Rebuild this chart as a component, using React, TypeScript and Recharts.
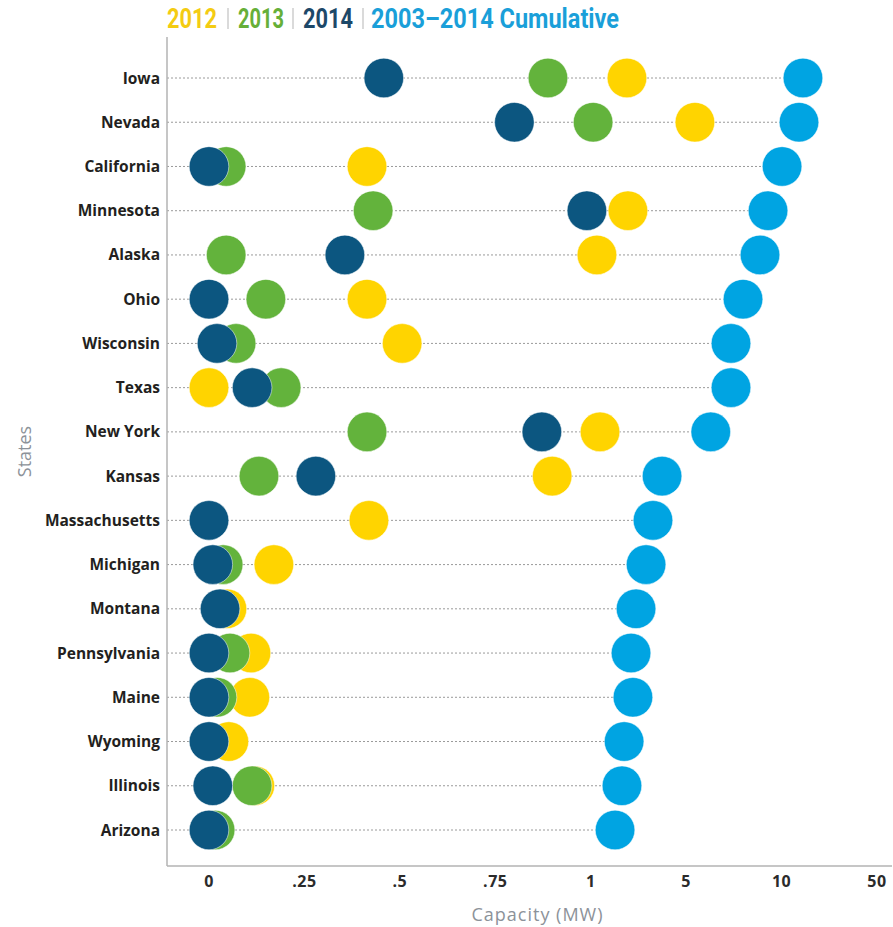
import React from "react";
import { ComposedChart, XAxis, YAxis, Scatter, ReferenceLine } from "recharts";

// ---- data (capacity in MW) ----
const states = [
  "Iowa", "Nevada", "California", "Minnesota", "Alaska", "Ohio", "Wisconsin", "Texas", "New York",
  "Kansas", "Massachusetts", "Michigan", "Montana", "Pennsylvania", "Maine", "Wyoming", "Illinois", "Arizona",
];
const values2012: (number | null)[] = [2.52, 5.46, 0.414, 2.56, 1.26, 0.414, 0.506, 0, 1.39, 0.899, 0.419, 0.17, 0.047, 0.11, 0.107, 0.052, 0.12, null];
const values2013: (number | null)[] = [0.888, 1.1, 0.045, 0.43, 0.045, 0.149, 0.071, 0.189, 0.414, 0.131, null, 0.037, null, 0.055, 0.021, null, 0.113, 0.016];
const values2014: (number | null)[] = [0.458, 0.8, 0, 0.99, 0.356, 0, 0.021, 0.113, 0.872, 0.28, 0, 0.01, 0.029, 0, 0, 0, 0.01, 0];
const valuesCumulative: number[] = [18.96, 17.3, 10.2, 9.29, 8.87, 7.98, 7.35, 7.35, 6.29, 3.99, 3.61, 3.32, 2.9, 2.69, 2.77, 2.4, 2.31, 2.02];

// axis break points (the chart's piecewise scale) and their labels
const tickValues = [0, 0.25, 0.5, 0.75, 1, 5, 10, 50];
const tickLabels = ["0", ".25", ".5", ".75", "1", "5", "10", "50"];

const legendItems = ["2012", "2013", "2014", "2003\u20132014 Cumulative"];

// map a MW value onto the evenly spaced break points
const toPos = (v: number | null): number | null => {
  if (v === null || v === undefined) return null;
  for (let i = 1; i < tickValues.length; i++) {
    if (v <= tickValues[i]) {
      const a = tickValues[i - 1];
      const b = tickValues[i];
      return i - 1 + (v - a) / (b - a);
    }
  }
  return tickValues.length - 1;
};

const rows = states.map((s, i) => ({
  state: s,
  p2012: toPos(values2012[i]),
  p2013: toPos(values2013[i]),
  p2014: toPos(values2014[i]),
  pCum: toPos(valuesCumulative[i]),
}));

const X_MIN = -0.44;
const X_MAX = 7.157;

const COLORS = {
  y2012: "#FFD400",
  y2013: "#63B33C",
  y2014: "#0C5680",
  cum: "#00A4E2",
};
const LEGEND_COLORS = ["#F4CC12", "#66AF38", "#1D4868", "#1A9FD9"];

const dot = (fill: string) => (props: any) => {
  const { cx, cy } = props;
  if (!Number.isFinite(cx) || !Number.isFinite(cy)) return <g />;
  return <circle cx={cx} cy={cy} r={19.8} fill={fill} stroke="#ffffff" strokeOpacity={0.5} strokeWidth={1} />;
};

const StatesLabel = (props: any) => {
  const vb = props.viewBox || {};
  const x = (vb.x ?? 0) + 24;
  const y = (vb.y ?? 0) + (vb.height ?? 0) / 2;
  return (
    <text
      x={x}
      y={y}
      transform={`rotate(-90 ${x} ${y})`}
      textAnchor="middle"
      dominantBaseline="central"
      fill="#8C9299"
      fontFamily="Open Sans"
      fontSize={18}
    >
      States
    </text>
  );
};

const CapacityLabel = (props: any) => {
  const vb = props.viewBox || {};
  const x = (vb.x ?? 0) + (vb.width ?? 0) / 2 + 8;
  const y = (vb.y ?? 0) + 55;
  return (
    <text x={x} y={y} textAnchor="middle" fill="#8C9299" fontFamily="Open Sans" fontSize={18} letterSpacing={1}>
      Capacity (MW)
    </text>
  );
};

const Legend = () => {
  const xs = [167, 238, 303, 371];
  const widths = [50, 46, 50, 248];
  const seps = [228, 293, 363];
  return (
    <svg width={893} height={36} style={{ position: "absolute", left: 0, top: 0 }}>
      {legendItems.map((t, i) => (
        <text
          key={t}
          x={xs[i]}
          y={28}
          fill={LEGEND_COLORS[i]}
          fontFamily="Roboto"
          fontWeight={700}
          fontSize={27}
          textLength={widths[i]}
          lengthAdjust="spacingAndGlyphs"
        >
          {t}
        </text>
      ))}
      {seps.map((sx) => (
        <line key={sx} x1={sx} x2={sx} y1={8} y2={29} stroke="#B5B5B5" strokeWidth={1} />
      ))}
    </svg>
  );
};

export default function App() {
  return (
    <div style={{ position: "absolute", left: 0, top: 0, width: 893, height: 927, background: "#fff" }}>
      <Legend />
      <ComposedChart
        width={893}
        height={927}
        layout="vertical"
        data={rows}
        margin={{ top: 37, right: 1, bottom: 0, left: 0 }}
      >
        <XAxis
          type="number"
          domain={[X_MIN, X_MAX]}
          allowDataOverflow
          ticks={tickLabels.map((_, i) => i)}
          tickFormatter={(v: number) => tickLabels[v] ?? ""}
          height={61}
          tickLine={false}
          tickSize={0}
          tickMargin={10}
          axisLine={{ stroke: "#B3B3B3", strokeWidth: 1.5 }}
          tick={{ fill: "#2B2B2B", fontFamily: "Open Sans", fontWeight: 700, fontSize: 16, letterSpacing: 0.5 }}
          label={<CapacityLabel />}
        />
        <XAxis
          xAxisId="top"
          orientation="top"
          type="number"
          domain={[0, 1]}
          height={0}
          tick={false}
          tickLine={false}
          axisLine={{ stroke: "#B3B3B3", strokeWidth: 1.5 }}
        />
        <YAxis
          type="category"
          dataKey="state"
          width={167}
          padding={{ top: 41, bottom: 36 }}
          tickLine={false}
          tickSize={0}
          tickMargin={7}
          interval={0}
          axisLine={{ stroke: "#B3B3B3", strokeWidth: 1.5 }}
          tick={{ fill: "#231F20", fontFamily: "Open Sans", fontWeight: 700, fontSize: 15.5 }}
          label={<StatesLabel />}
        />
        {rows.map((r) => (
          <ReferenceLine
            key={"l" + r.state}
            segment={[
              { x: X_MIN, y: r.state },
              { x: r.pCum as number, y: r.state },
            ]}
            stroke="#9A9A9A"
            strokeWidth={1}
            strokeDasharray="2 2"
            ifOverflow="visible"
          />
        ))}
        <Scatter dataKey="p2012" isAnimationActive={false} shape={dot(COLORS.y2012)} />
        <Scatter dataKey="p2013" isAnimationActive={false} shape={dot(COLORS.y2013)} />
        <Scatter dataKey="p2014" isAnimationActive={false} shape={dot(COLORS.y2014)} />
        <Scatter dataKey="pCum" isAnimationActive={false} shape={dot(COLORS.cum)} />
      </ComposedChart>
    </div>
  );
}
